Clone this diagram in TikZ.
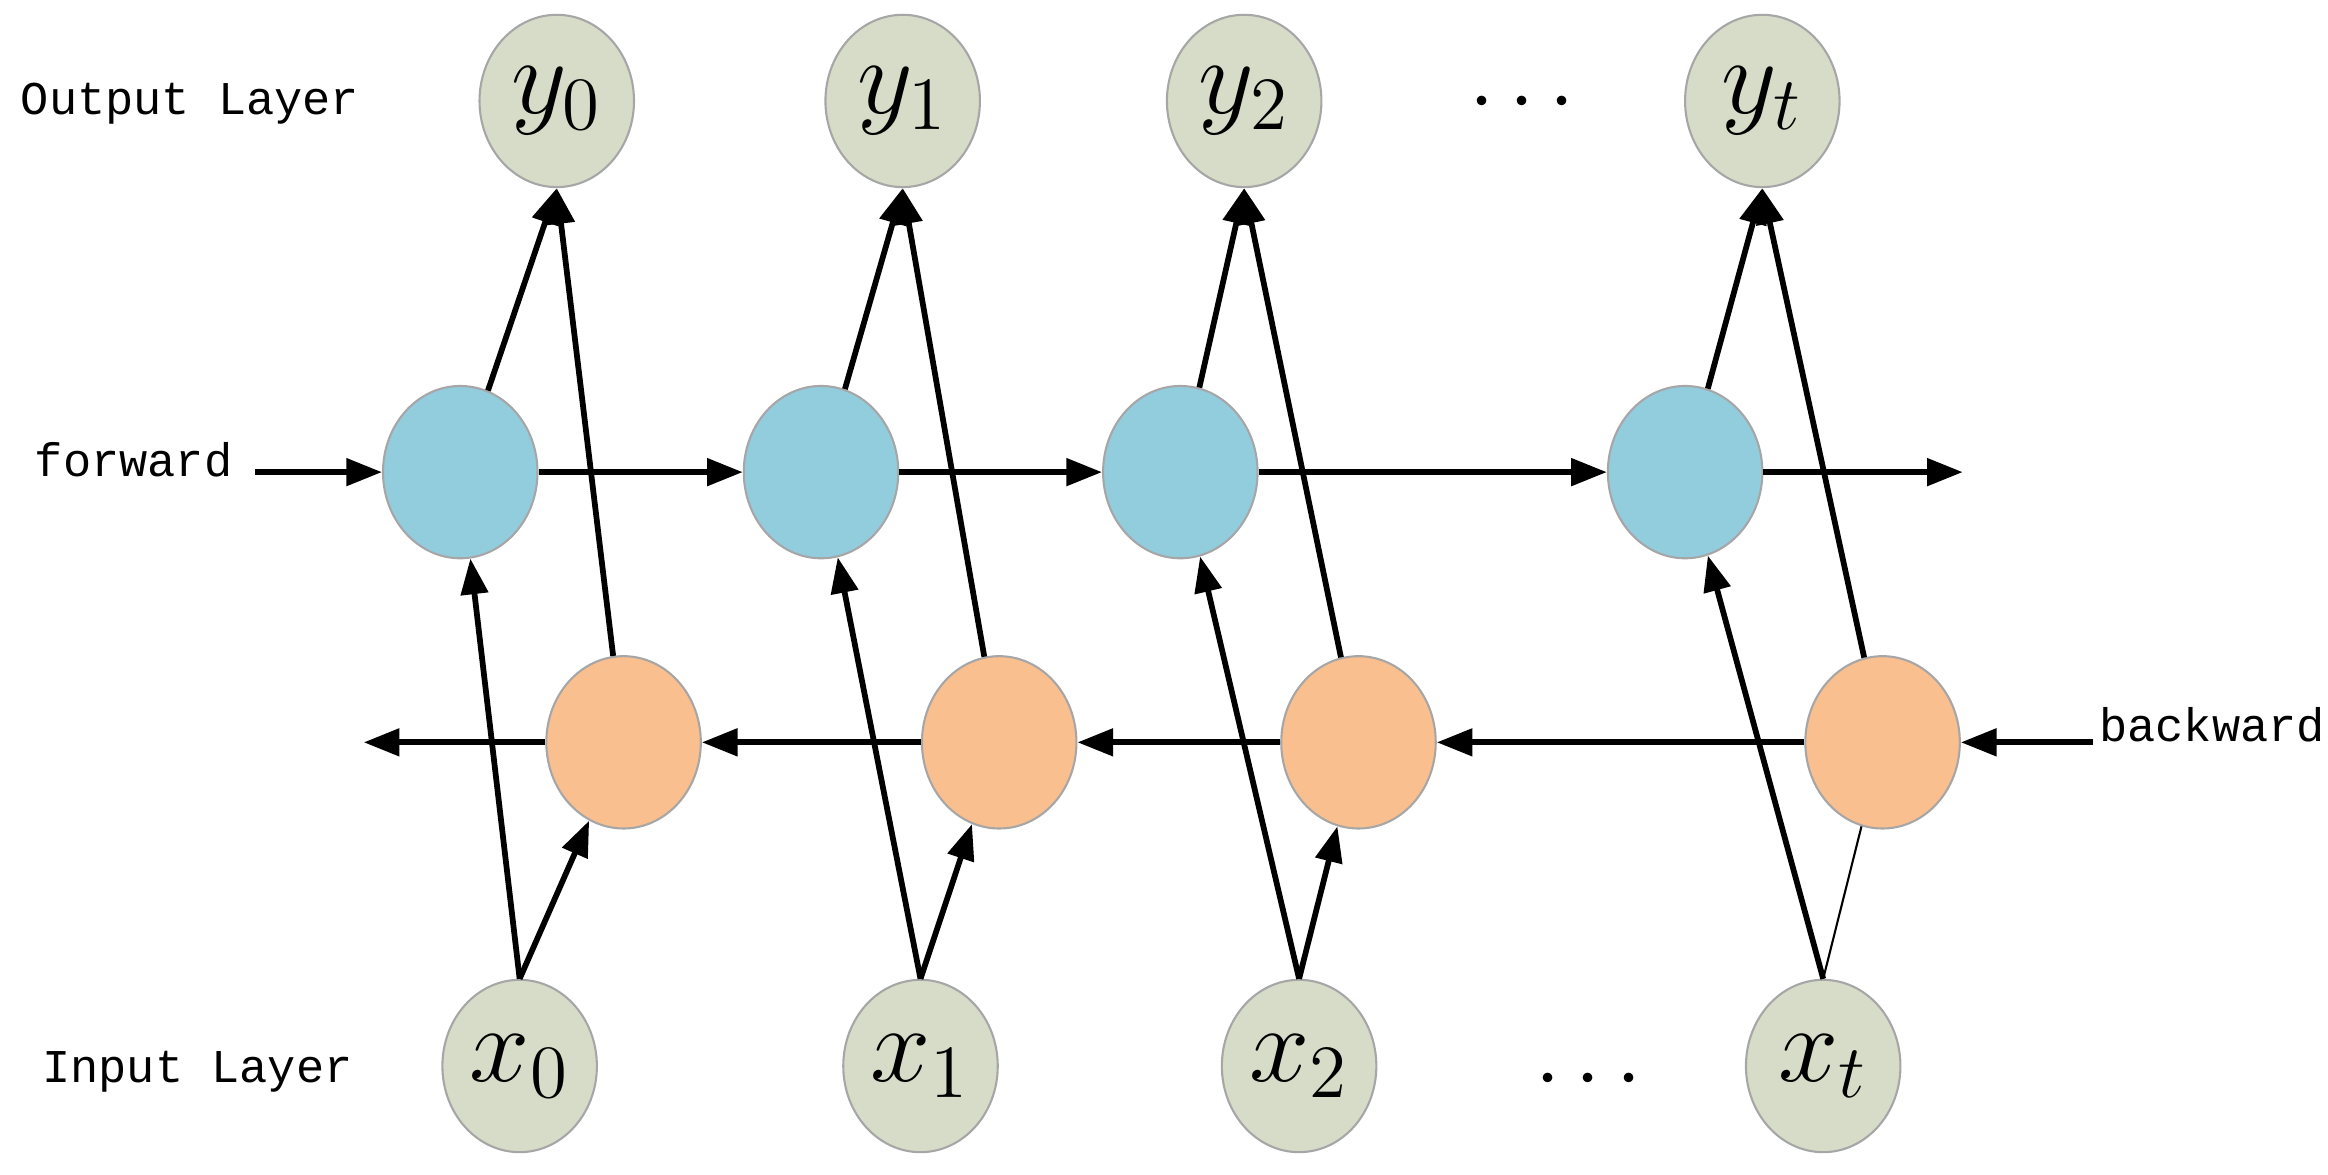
\documentclass[tikz,border=0pt]{standalone}
\usepackage{fontspec}
\setmonofont{Liberation Mono}
\usetikzlibrary{arrows.meta,shapes.geometric}
\begin{document}
\begin{tikzpicture}[x=0.01cm,y=-0.01cm,
 io/.style={ellipse,draw=gray!70,thin,fill={rgb,255:red,215;green,220;blue,200},minimum width=1.04cm,minimum height=1.16cm,inner sep=0pt,font=\fontsize{22}{22}\selectfont},
 fw/.style={ellipse,draw=gray!70,thin,fill={rgb,255:red,146;green,205;blue,222},minimum width=1.04cm,minimum height=1.16cm},
 bw/.style={ellipse,draw=gray!70,thin,fill={rgb,255:red,250;green,191;blue,143},minimum width=1.04cm,minimum height=1.16cm},
 ar/.style={line width=1.1pt,-{Triangle[length=0.24cm,width=0.18cm]}},
 lab/.style={font=\ttfamily\fontsize{9}{9}\selectfont}]
\useasboundingbox (0,0) rectangle (1568,791);
\foreach \i/\xy/\xf/\xb/\xx/\n in {0/375/310/420/350/0,1/608/553/673/620/1,2/838/795/915/875/2,3/1187/1135/1268/1228/t}{
 \node[io] (y\i) at (\xy,68) {$y_{\n}$};
 \node[fw] (f\i) at (\xf,318) {};
 \node[bw] (b\i) at (\xb,500) {};
 \node[io] (x\i) at (\xx,718) {$x_{\n}$};
 \draw[ar] (f\i) -- (y\i.south);
 \draw[ar] (b\i) -- (y\i.south);
 \draw[ar] (x\i.north) -- (f\i);
}
\foreach \i in {0,1,2}{\draw[ar] (x\i.north) -- (b\i);}
\draw[thin] (x3.north) -- (b3);
\node[font=\fontsize{18}{18}\selectfont] (d1) at (1025,70) {$\cdots$};
\node[font=\fontsize{18}{18}\selectfont] (d2) at (1070,728) {$\cdots$};
\node[lab] (lo) at (128,70) {Output Layer};
\node[lab] (lf) at (90,310) {forward};
\node[lab] (li) at (133,722) {Input Layer};
\node[lab] (lbk) at (1490,488) {backward};
\coordinate (fi) at (172,318); \coordinate (fo) at (1322,318);
\coordinate (bi) at (1410,500); \coordinate (bo) at (245,500);
\draw[ar] (fi) -- (f0); \draw[ar] (f0) -- (f1); \draw[ar] (f1) -- (f2); \draw[ar] (f2) -- (f3); \draw[ar] (f3) -- (fo);
\draw[ar] (bi) -- (b3); \draw[ar] (b3) -- (b2); \draw[ar] (b2) -- (b1); \draw[ar] (b1) -- (b0); \draw[ar] (b0) -- (bo);
\end{tikzpicture}
\end{document}
